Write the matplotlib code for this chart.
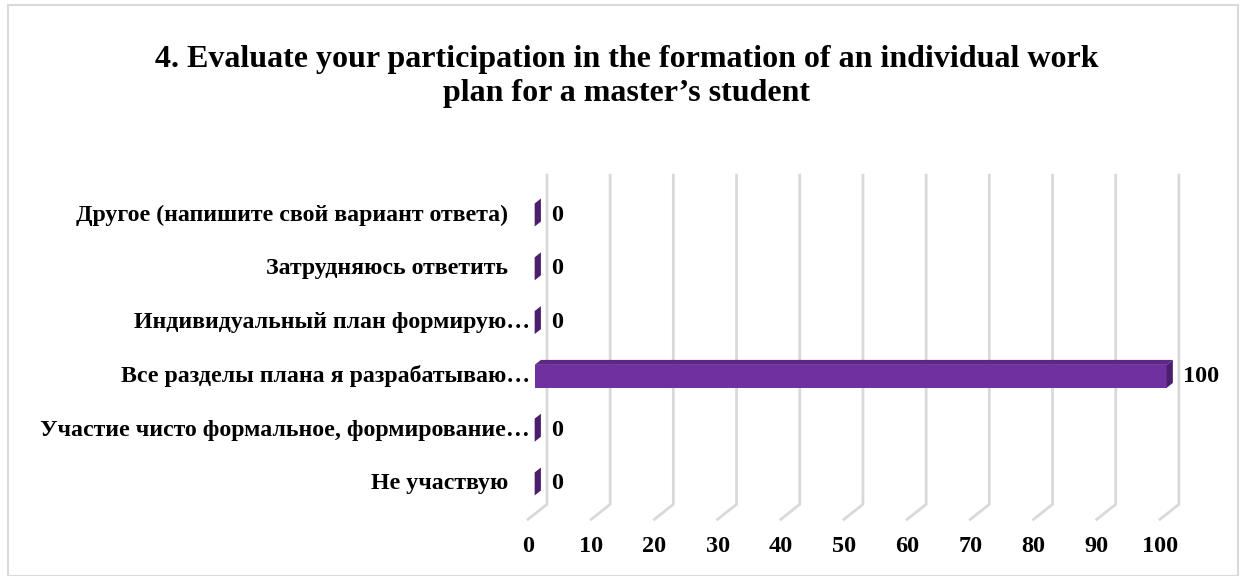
import matplotlib.pyplot as plt
from matplotlib.patches import Polygon, Rectangle

# data
categories = [
    "Не участвую",
    "Участие чисто формальное, формирование…",
    "Все разделы плана я разрабатываю…",
    "Индивидуальный план формирую…",
    "Затрудняюсь ответить",
    "Другое (напишите свой вариант ответа)",
]
values = [0, 0, 100, 0, 0, 0]
ticks = [0, 10, 20, 30, 40, 50, 60, 70, 80, 90, 100]
title = "4. Evaluate your participation in the formation of an individual work\nplan for a master\u2019s student"

plt.rcParams['font.family'] = ['Liberation Serif', 'DejaVu Serif']

FRONT = '#7030A0'
TOP = '#5d2787'
SIDE = '#4b1f6d'
GRID = '#d9d9d9'

# 3d depth of the plot (data units) and placement of the bars within it
DX, DY = 3.0, 0.279
F_BAR = 0.35   # bar front face sits this far into the depth
BAR_D = 0.33   # bar depth fraction
HH = 0.214     # half bar height
Y0, Y1 = -0.56, 5.56

fig = plt.figure(figsize=(12.46, 5.76), dpi=100)
ax = fig.add_axes([534.65 / 1246, 0.1075, 631.95 / 1246, 0.5715])
ax.set_xlim(0, 100)
ax.set_ylim(Y0, Y1)
ax.axis('off')

# gridlines: back wall + floor diagonal
back = 1 - F_BAR
for t in ticks:
    xs = [t + back * DX, t + back * DX, t - F_BAR * DX]
    ys = [Y1 + back * DY, Y0 + back * DY, Y0 - F_BAR * DY]
    ax.plot(xs, ys, color=GRID, lw=2, clip_on=False, zorder=1)
    ax.text(t - F_BAR * DX, -1.17, str(t), ha='center', va='center',
            fontsize=17.5, fontweight='bold')

bx, by = BAR_D * DX, BAR_D * DY
for i, (cat, v) in enumerate(zip(categories, values)):
    lo, hi = i - HH, i + HH
    if v > 0:
        ax.add_patch(Rectangle((0, lo), v, hi - lo, facecolor=FRONT,
                               edgecolor='none', clip_on=False, zorder=3))
        ax.add_patch(Polygon([(0, hi), (v, hi), (v + bx, hi + by), (bx, hi + by)],
                             facecolor=TOP, edgecolor='none', clip_on=False, zorder=3))
    ax.add_patch(Polygon([(v, lo), (v + bx, lo + by), (v + bx, hi + by), (v, hi)],
                         facecolor=SIDE, edgecolor='none', clip_on=False, zorder=3))
    ax.annotate(str(v), xy=(v + bx, i), xytext=(7, 0), textcoords='offset points',
                ha='left', va='center', fontsize=17.5, fontweight='bold',
                annotation_clip=False)
    off = -3.3 if cat.endswith('…') else -19
    ax.annotate(cat, xy=(0, i), xytext=(off, 0), textcoords='offset points',
                ha='right', va='center', fontsize=17.2, fontweight='bold',
                annotation_clip=False)

fig.text(0.503, 0.867, title, ha='center', va='center', fontsize=23,
         fontweight='bold', linespacing=1.2)

fig.patches.append(Rectangle((8 / 1246, 0), 1230 / 1246, 571 / 576,
                             transform=fig.transFigure, fill=False,
                             edgecolor='#d9d9d9', lw=1.5))

fig.savefig('out.png', dpi=100)
